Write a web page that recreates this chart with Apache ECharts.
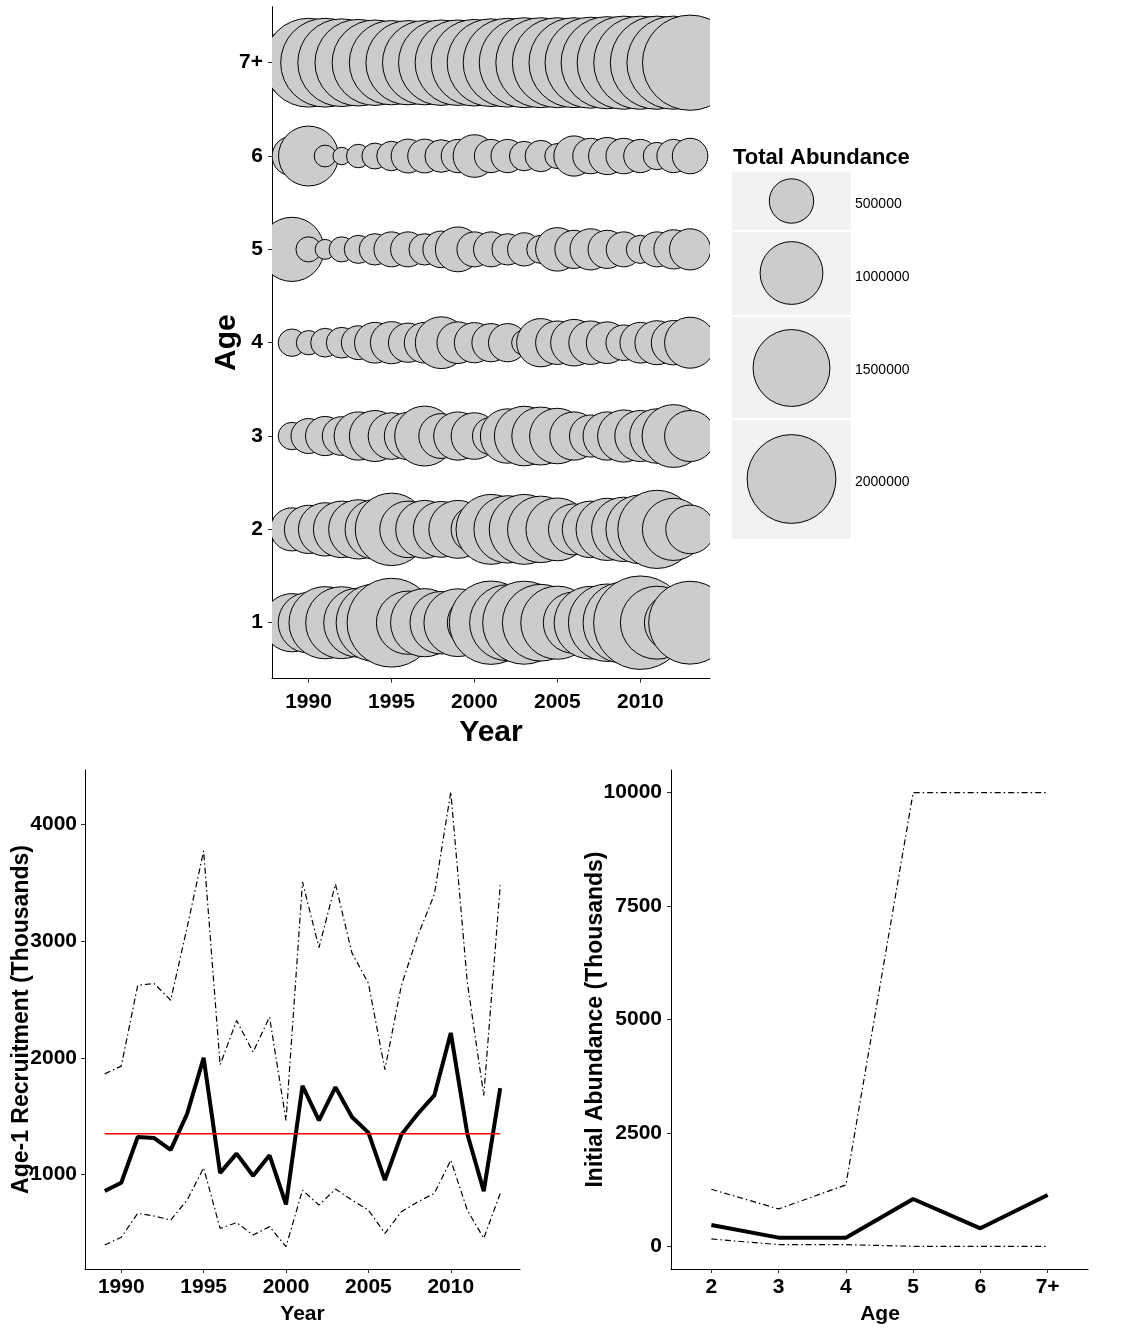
<!DOCTYPE html>
<html><head><meta charset="utf-8">
<script src="https://cdn.jsdelivr.net/npm/echarts@6/dist/echarts.min.js"></script>
<style>html,body{margin:0;padding:0;background:#fff}#c{width:1127px;height:1329px}</style>
</head><body><div id="c"></div>
<script>
// ---------- DATA ----------
const years = [1989,1990,1991,1992,1993,1994,1995,1996,1997,1998,1999,2000,2001,2002,2003,2004,2005,2006,2007,2008,2009,2010,2011,2012,2013];
const yearTicks = [1990,1995,2000,2005,2010];
const ageLabels = ['1','2','3','4','5','6','7+'];

// Abundance at age by year (fish)
const abundAge1 = [858000,929000,1322000,1313000,1211000,1521000,2000000,1014000,1179000,989000,1165000,744000,1761000,1464000,1749000,1493000,1359000,952000,1342000,1521000,1678000,2214000,1350000,858000,1741000];
const abundAge2 = [471000,590000,720000,810000,890000,900000,1330000,810000,850000,790000,850000,550000,1240000,1150000,1240000,1120000,1000000,660000,810000,980000,1050000,1200000,1550000,980000,600000];
const abundAge3 = [191000,310000,390000,380000,590000,660000,550000,570000,910000,510000,590000,550000,350000,750000,900000,850000,780000,590000,450000,590000,690000,660000,750000,1000000,660000];
const abundAge4 = [191000,150000,210000,240000,290000,420000,450000,390000,420000,680000,440000,410000,370000,370000,160000,590000,480000,550000,480000,440000,320000,420000,490000,500000,660000];
const abundAge5 = [1044000,160000,100000,160000,200000,250000,310000,310000,250000,340000,510000,310000,310000,250000,280000,200000,480000,370000,430000,370000,310000,200000,310000,390000,430000];
const abundAge6 = [397000,910000,120000,77000,140000,170000,220000,290000,290000,270000,280000,460000,280000,280000,220000,250000,160000,410000,320000,350000,320000,280000,190000,280000,320000];
const abundAge7 = [1132000,2000000,2000000,1950000,1900000,1850000,1800000,1800000,1800000,1850000,1850000,1900000,1950000,2000000,2050000,2050000,2050000,2050000,2100000,2150000,2200000,2200000,2200000,2200000,2300000];
const legendValues = [500000,1000000,1500000,2000000];

// Age-1 recruitment (thousands)
const recruitMean  = [858,929,1322,1313,1211,1521,2000,1014,1179,989,1165,744,1761,1464,1749,1493,1359,952,1342,1521,1678,2214,1350,858,1741];
const recruitLower = [396,462,667,644,610,781,1057,538,587,481,553,382,866,738,875,781,695,496,681,766,838,1123,695,453,838];
const recruitUpper = [1863,1929,2623,2637,2494,3120,3774,1940,2320,2050,2350,1464,3508,2945,3490,2900,2640,1900,2620,3050,3400,4280,2650,1678,3480];
const recruitAverage = 1350;
const recruitTicks = [1000,2000,3000,4000];

// Initial abundance (thousands)
const initAges  = ['2','3','4','5','6','7+'];
const initMean  = [471,191,191,1044,397,1132];
const initLower = [162,37,37,0,0,0];
const initUpper = [1257,824,1353,10000,10000,10000];
const initTicks = [0,2500,5000,7500,10000];

// ---------- CHART ----------
const FONT = 'Liberation Sans, Arial, Helvetica, sans-serif';
const sizeScale = v => 31.4 * Math.sqrt(v / 1e6);   // radius in px (area ∝ abundance)
const ageRows = [abundAge1, abundAge2, abundAge3, abundAge4, abundAge5, abundAge6, abundAge7];
const bubbleData = [];
ageRows.forEach((row, a) => row.forEach((v, i) => bubbleData.push([years[i], a + 1, v])));

const dotdash = [6, 3, 1.5, 3];
const plain = v => String(v);
const tickLbl = (extra) => Object.assign({color:'#000', fontFamily:FONT, fontWeight:'bold', fontSize:21, formatter:plain}, extra);
const axLine = {show:true, onZero:false, lineStyle:{color:'#000', width:1}};
const axTick = (vals) => ({show:true, length:4, lineStyle:{color:'#333', width:1}, customValues: vals});

const chart = echarts.init(document.getElementById('c'), null, {renderer:'canvas'});

const legendBoxes = [[172,58],[232,83],[317,101],[420,119]];
const legendCy = [201,273,368,479];
const legendLabelY = [204,277,370,482];
const graphic = [];
legendBoxes.forEach(b => graphic.push({type:'rect', shape:{x:732, y:b[0], width:119, height:b[1]}, style:{fill:'#f2f2f2'}}));
legendValues.forEach((v, i) => {
  graphic.push({type:'circle', shape:{cx:791.5, cy:legendCy[i], r:sizeScale(v)}, style:{fill:'#cccccc', stroke:'#000', lineWidth:1}});
  graphic.push({type:'text', x:855, y:legendLabelY[i], style:{text:String(v), font:'14px ' + FONT, fill:'#000', textAlign:'left', textVerticalAlign:'middle'}});
});
graphic.push({type:'text', x:733, y:158, style:{text:'Total Abundance', font:'bold 22px ' + FONT, fill:'#000', textAlign:'left', textVerticalAlign:'middle'}});
graphic.push({type:'text', x:491, y:733, style:{text:'Year', font:'bold 30px ' + FONT, fill:'#000', textAlign:'center', textVerticalAlign:'middle'}});
graphic.push({type:'text', x:227, y:342.7, rotation:Math.PI/2, style:{text:'Age', font:'bold 30px ' + FONT, fill:'#000', textAlign:'center', textVerticalAlign:'middle'}});
graphic.push({type:'text', x:302.5, y:1314, style:{text:'Year', font:'bold 21px ' + FONT, fill:'#000', textAlign:'center', textVerticalAlign:'middle'}});
graphic.push({type:'text', x:21.5, y:1019.5, rotation:Math.PI/2, style:{text:'Age-1 Recruitment (Thousands)', font:'bold 23px ' + FONT, fill:'#000', textAlign:'center', textVerticalAlign:'middle'}});
graphic.push({type:'text', x:880, y:1314, style:{text:'Age', font:'bold 21px ' + FONT, fill:'#000', textAlign:'center', textVerticalAlign:'middle'}});
graphic.push({type:'text', x:596, y:1019.5, rotation:Math.PI/2, style:{text:'Initial Abundance (Thousands)', font:'bold 23px ' + FONT, fill:'#000', textAlign:'center', textVerticalAlign:'middle'}});

const option = {
  animation: false,
  backgroundColor: '#fff',
  grid: [
    {left:272, top:6.7, width:438, height:672},
    {left:85, top:770, width:435, height:499},
    {left:671, top:770, width:417, height:499}
  ],
  xAxis: [
    {gridIndex:0, type:'value', min:1987.8, max:2014.2, axisLine:axLine, axisTick:axTick(yearTicks),
     axisLabel:tickLbl({margin:13, customValues:yearTicks}), splitLine:{show:false}},
    {gridIndex:1, type:'value', min:1987.8, max:2014.2, axisLine:axLine, axisTick:axTick(yearTicks),
     axisLabel:tickLbl({margin:8, customValues:yearTicks}), splitLine:{show:false}},
    {gridIndex:2, type:'value', min:0.4, max:6.6, axisLine:axLine, axisTick:axTick([1,2,3,4,5,6]),
     axisLabel:tickLbl({margin:8, customValues:[1,2,3,4,5,6], formatter:v => initAges[Math.round(v)-1]}), splitLine:{show:false}}
  ],
  yAxis: [
    {gridIndex:0, type:'value', min:0.4, max:7.6, axisLine:axLine, axisTick:axTick([1,2,3,4,5,6,7]),
     axisLabel:tickLbl({margin:9, customValues:[1,2,3,4,5,6,7], formatter:v => ageLabels[Math.round(v)-1]}), splitLine:{show:false}},
    {gridIndex:1, type:'value', min:190, max:4468, axisLine:axLine, axisTick:axTick(recruitTicks),
     axisLabel:tickLbl({margin:8, customValues:recruitTicks}), splitLine:{show:false}},
    {gridIndex:2, type:'value', min:-500, max:10500, axisLine:axLine, axisTick:axTick(initTicks),
     axisLabel:tickLbl({margin:9, customValues:initTicks}), splitLine:{show:false}}
  ],
  graphic: graphic,
  series: [
    {type:'custom', xAxisIndex:0, yAxisIndex:0, clip:true, data:bubbleData,
     encode:{x:0, y:1},
     renderItem:(params, api) => {
       const p = api.coord([api.value(0), api.value(1)]);
       return {type:'circle', shape:{cx:p[0], cy:p[1], r:sizeScale(api.value(2))},
               style:{fill:'#cccccc', stroke:'#000', lineWidth:1}};
     }},
    {type:'line', xAxisIndex:1, yAxisIndex:1, symbol:'none', data:years.map((y,i)=>[y, recruitUpper[i]]),
     lineStyle:{color:'#000', width:1.2, type:dotdash}},
    {type:'line', xAxisIndex:1, yAxisIndex:1, symbol:'none', data:years.map((y,i)=>[y, recruitLower[i]]),
     lineStyle:{color:'#000', width:1.2, type:dotdash}},
    {type:'line', xAxisIndex:1, yAxisIndex:1, symbol:'none', data:years.map((y,i)=>[y, recruitMean[i]]),
     lineStyle:{color:'#000', width:4}},
    {type:'line', xAxisIndex:1, yAxisIndex:1, symbol:'none', data:[[years[0], recruitAverage],[years[years.length-1], recruitAverage]],
     lineStyle:{color:'#ff0000', width:1.5}},
    {type:'line', xAxisIndex:2, yAxisIndex:2, symbol:'none', data:initUpper.map((v,i)=>[i+1, v]),
     lineStyle:{color:'#000', width:1.2, type:dotdash}},
    {type:'line', xAxisIndex:2, yAxisIndex:2, symbol:'none', data:initLower.map((v,i)=>[i+1, v]),
     lineStyle:{color:'#000', width:1.2, type:dotdash}},
    {type:'line', xAxisIndex:2, yAxisIndex:2, symbol:'none', data:initMean.map((v,i)=>[i+1, v]),
     lineStyle:{color:'#000', width:4}}
  ]
};
chart.setOption(option);
</script></body></html>
